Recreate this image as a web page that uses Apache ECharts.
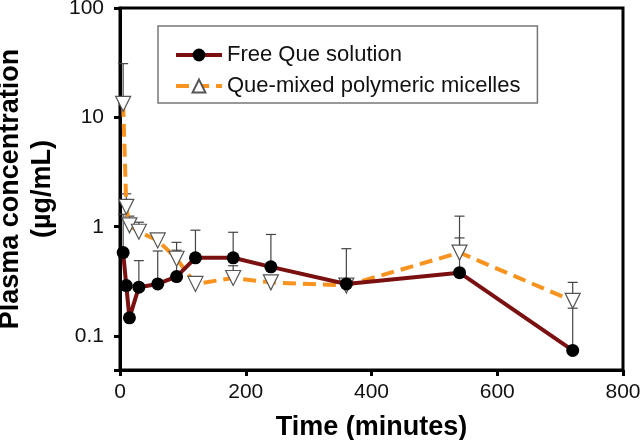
<!DOCTYPE html>
<html>
<head>
<meta charset="utf-8">
<script src="https://cdn.jsdelivr.net/npm/echarts@6/dist/echarts.min.js"></script>
<style>
html,body{margin:0;padding:0;background:#fff;}
#main{width:644px;height:440px;}
</style>
</head>
<body>
<div id="main"></div>
<script>
// ---- data ----
var timesMin = [5, 10, 15, 30, 60, 90, 120, 180, 240, 360, 540, 720];
var freeQue = [0.58, 0.29, 0.147, 0.28, 0.30, 0.35, 0.52, 0.52, 0.43, 0.30, 0.38, 0.074];
var freeQueErrTop = [1.3, null, null, 0.49, 0.60, 0.61, 0.93, 0.89, 0.85, 0.63, 0.79, 0.18];
var micelles = [13.3, 1.52, 1.03, 0.90, 0.75, 0.51, 0.30, 0.34, 0.31, 0.29, 0.58, 0.21];
var micellesErrTop = [31, 2.0, 1.25, 1.1, null, 0.72, null, 0.44, null, null, 1.25, 0.31];
var xTickLabels = ['0', '200', '400', '600', '800'];
var yTickLabels = ['0.1', '1', '10', '100'];
var seriesNames = ['Free Que solution', 'Que-mixed polymeric micelles'];

var FONT = 'Liberation Sans, Arial, sans-serif';

function pairs(vals) {
  return timesMin.map(function (t, i) { return [t, vals[i]]; });
}
function errData(vals, tops) {
  var out = [];
  timesMin.forEach(function (t, i) {
    if (tops[i] != null) out.push([t, vals[i], tops[i]]);
  });
  return out;
}
function errRender(params, api) {
  var p0 = api.coord([api.value(0), api.value(1)]);
  var p1 = api.coord([api.value(0), api.value(2)]);
  var half = 5;
  var st = { stroke: '#444', lineWidth: 1.2 };
  return {
    type: 'group',
    children: [
      { type: 'line', shape: { x1: p0[0], y1: p0[1], x2: p1[0], y2: p1[1] }, style: st },
      { type: 'line', shape: { x1: p1[0] - half, y1: p1[1], x2: p1[0] + half, y2: p1[1] }, style: st }
    ]
  };
}

var chart = echarts.init(document.getElementById('main'), null, { renderer: 'canvas' });
chart.setOption({
  backgroundColor: '#fff',
  animation: false,
  textStyle: { fontFamily: FONT },
  grid: {
    left: 120, right: 21, top: 8, bottom: 70,
    containLabel: false,
    outerBoundsMode: 'none',
    show: true, borderColor: '#000', borderWidth: 3, backgroundColor: 'transparent'
  },
  legend: {
    data: seriesNames,
    orient: 'vertical',
    left: 158, top: 26,
    padding: [18, 17, 6, 16],
    itemGap: 9,
    itemWidth: 46, itemHeight: 16,
    borderColor: '#777', borderWidth: 1.5,
    symbolRotate: 0,
    lineStyle: { width: 4 },
    textStyle: { fontFamily: FONT, fontSize: 22, color: '#111', lineHeight: 22 }
  },
  xAxis: {
    type: 'value',
    min: 0, max: 800, interval: 200,
    name: 'Time (minutes)',
    nameLocation: 'middle',
    nameGap: 44,
    nameTextStyle: { fontFamily: FONT, fontSize: 27, fontWeight: 'bold', color: '#000' },
    axisLine: { show: true, lineStyle: { color: '#000', width: 3 } },
    axisTick: { show: true, length: 6, lineStyle: { color: '#000', width: 3 } },
    axisLabel: {
      margin: 12, fontSize: 21, color: '#111', fontFamily: FONT,
      formatter: function (v) { return xTickLabels[Math.round(v / 200)]; }
    },
    splitLine: { show: false }
  },
  yAxis: {
    type: 'log',
    logBase: 10,
    min: 0.049, max: 100,
    name: 'Plasma concentration\n(µg/mL)',
    nameLocation: 'middle',
    nameGap: 57,
    nameRotate: 90,
    nameTextStyle: { fontFamily: FONT, fontSize: 27, fontWeight: 'bold', color: '#000', lineHeight: 32 },
    axisLine: { show: true, lineStyle: { color: '#000', width: 3 } },
    axisTick: { show: true, length: 6, lineStyle: { color: '#000', width: 3 } },
    axisLabel: {
      margin: 16, fontSize: 21, color: '#111', fontFamily: FONT,
      formatter: function (v) {
        var l = Math.log10(v);
        if (Math.abs(l - Math.round(l)) > 1e-6) return '';
        return yTickLabels[Math.round(l) + 1] || '';
      }
    },
    splitLine: { show: false },
    minorTick: { show: false }
  },
  series: [
    {
      name: 'errFree', type: 'custom', renderItem: errRender,
      data: errData(freeQue, freeQueErrTop), encode: { x: 0, y: 1 }, z: 1, silent: true
    },
    {
      name: 'errMic', type: 'custom', renderItem: errRender,
      data: errData(micelles, micellesErrTop), encode: { x: 0, y: 1 }, z: 1, silent: true
    },
    {
      name: seriesNames[1], type: 'line', data: pairs(micelles), z: 3,
      symbol: 'triangle', symbolRotate: 180, symbolSize: 15,
      lineStyle: { color: '#F7931E', width: 4, type: [13, 7] },
      itemStyle: { color: '#fff', borderColor: '#555', borderWidth: 1.2 }
    },
    {
      name: seriesNames[0], type: 'line', data: pairs(freeQue), z: 4,
      symbol: 'circle', symbolSize: 13,
      lineStyle: { color: '#7B1010', width: 4 },
      itemStyle: { color: '#000', borderWidth: 0 }
    }
  ]
});
</script>
</body>
</html>
